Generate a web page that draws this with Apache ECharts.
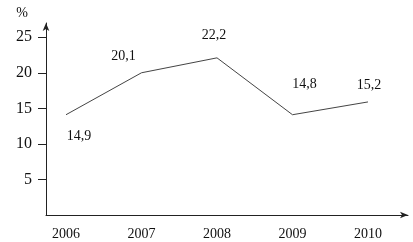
<!DOCTYPE html>
<html>
<head>
<meta charset="utf-8">
<script src="https://cdn.jsdelivr.net/npm/echarts@6/dist/echarts.min.js"></script>
<style>
html,body{margin:0;padding:0;background:#fff;}
#c{width:413px;height:242px;}
</style>
</head>
<body>
<div id="c"></div>
<script>
const years = ['2006', '2007', '2008', '2009', '2010'];
const values = [14.1, 20.0, 22.1, 14.1, 15.9];
const labelTexts = ['14,9', '20,1', '22,2', '14,8', '15,2'];
const yTicks = [5, 10, 15, 20, 25];
const labelOffsets = [[13, 22], [-18, -16], [-3, -23], [12, -30], [1, -17]];

const font = 'Liberation Serif';
const chart = echarts.init(document.getElementById('c'), null, {renderer: 'canvas'});
chart.setOption({
  animation: false,
  backgroundColor: '#fff',
  grid: {left: 46, right: 5, top: 23, bottom: 27},
  xAxis: {
    type: 'value',
    min: -0.265,
    max: 4.53,
    splitLine: {show: false},
    axisTick: {show: false},
    axisLine: {show: true, onZero: false, symbol: ['none', 'arrow'], symbolSize: [5, 8], lineStyle: {color: '#222', width: 1}},
    axisLabel: {
      customValues: years.map((y, i) => i),
      formatter: v => years[Math.round(v)],
      color: '#111', fontFamily: font, fontSize: 14, margin: 12
    }
  },
  yAxis: {
    type: 'value',
    min: 0,
    max: 27,
    name: '%',
    nameLocation: 'end',
    nameGap: 3,
    nameTextStyle: {color: '#111', fontFamily: font, fontSize: 14, align: 'right', padding: [0, 18, 0, 0]},
    splitLine: {show: false},
    axisLine: {show: true, onZero: false, symbol: ['none', 'arrow'], symbolSize: [5, 8], lineStyle: {color: '#222', width: 1}},
    axisTick: {show: true, inside: false, length: 8, customValues: yTicks, lineStyle: {color: '#222'}},
    axisLabel: {customValues: yTicks, color: '#111', fontFamily: font, fontSize: 16, margin: 14}
  },
  series: [{
    type: 'line',
    showSymbol: true,
    symbol: 'circle',
    symbolSize: 0,
    lineStyle: {color: '#444', width: 1},
    data: values.map((v, i) => ({
      value: [i, v],
      label: {
        show: true,
        position: 'inside',
        offset: labelOffsets[i],
        formatter: labelTexts[i],
        color: '#111', fontFamily: font, fontSize: 14
      }
    }))
  }]
});
</script>
</body>
</html>
